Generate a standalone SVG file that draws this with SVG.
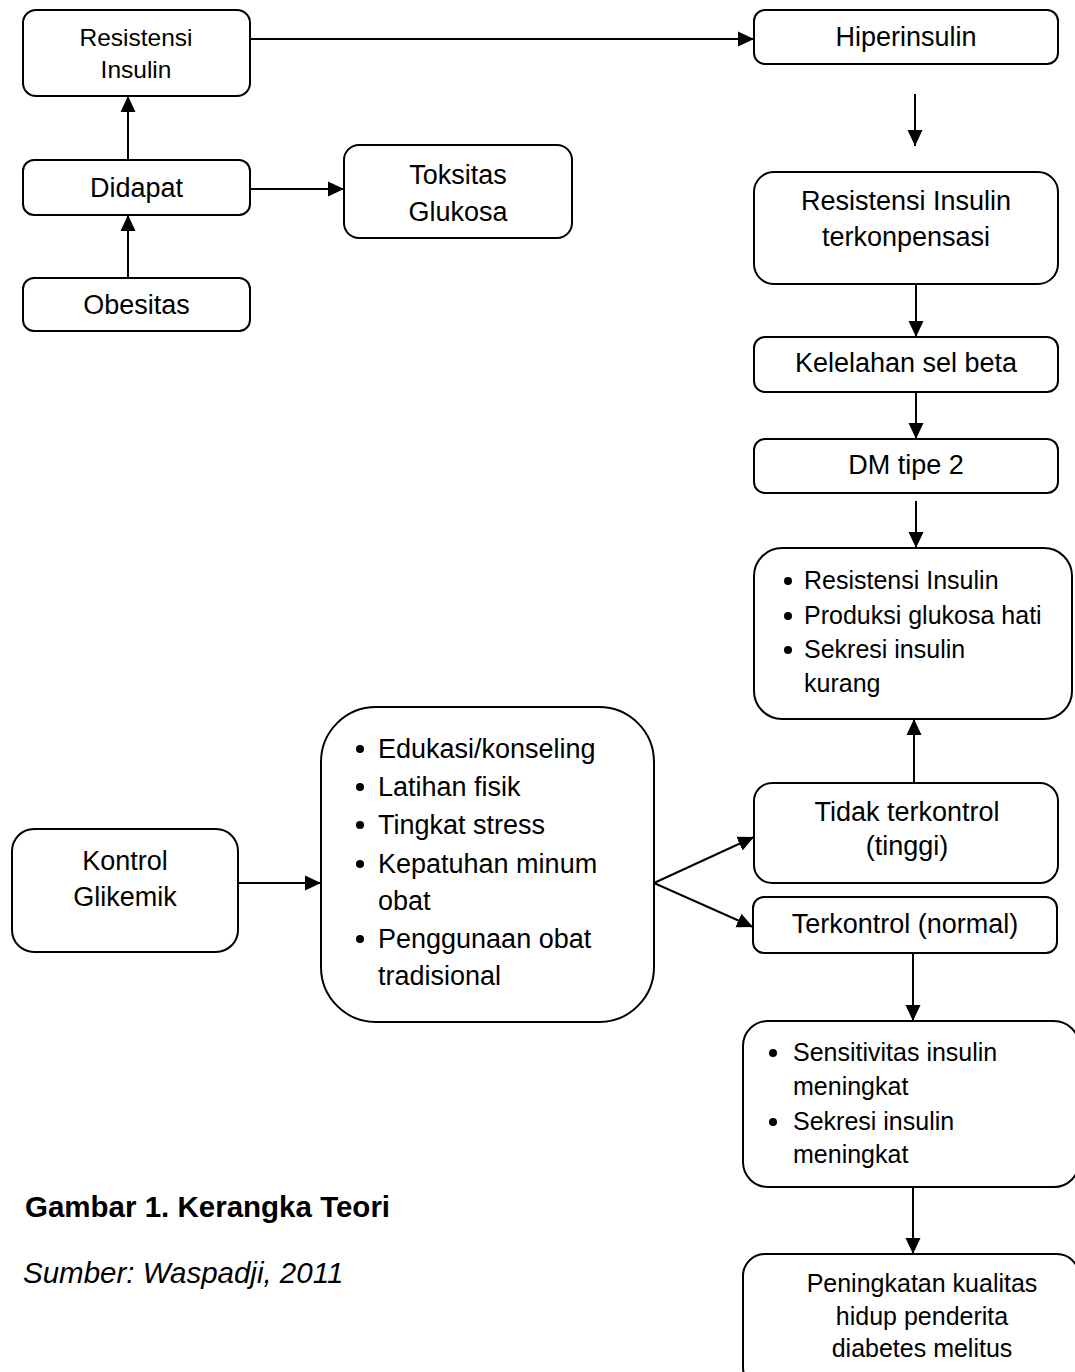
<svg xmlns="http://www.w3.org/2000/svg" width="1075" height="1372" viewBox="0 0 1075 1372">
<defs>
<style>
.box{fill:#fff;stroke:#000;stroke-width:2}
.t{font-family:"Liberation Sans",Arial,sans-serif;font-size:27px;fill:#000}
.c{text-anchor:middle}
.s{font-size:25px}
.ln{fill:none;stroke:#000;stroke-width:2}
.dot{fill:#000}
</style>
<marker id="ah" markerUnits="userSpaceOnUse" markerWidth="16" markerHeight="16" refX="16" refY="8" orient="auto" viewBox="0 0 16 16">
<path d="M0,0.5 L16,8 L0,15.5 z" fill="#000"/>
</marker>
</defs>
<rect width="1075" height="1372" fill="#fff"/>

<g id="connectors">
<line class="ln" x1="250" y1="39" x2="754" y2="39" marker-end="url(#ah)"/>
<line class="ln" x1="128" y1="160" x2="128" y2="96" marker-end="url(#ah)"/>
<line class="ln" x1="128" y1="278" x2="128" y2="215" marker-end="url(#ah)"/>
<line class="ln" x1="250" y1="189" x2="344" y2="189" marker-end="url(#ah)"/>
<line class="ln" x1="915" y1="94" x2="915" y2="146" marker-end="url(#ah)"/>
<line class="ln" x1="916" y1="284" x2="916" y2="337" marker-end="url(#ah)"/>
<line class="ln" x1="916" y1="392" x2="916" y2="439" marker-end="url(#ah)"/>
<line class="ln" x1="916" y1="501" x2="916" y2="548" marker-end="url(#ah)"/>
<line class="ln" x1="914" y1="783" x2="914" y2="719" marker-end="url(#ah)"/>
<line class="ln" x1="238" y1="883" x2="321" y2="883" marker-end="url(#ah)"/>
<line class="ln" x1="654" y1="883" x2="754" y2="837" marker-end="url(#ah)"/>
<line class="ln" x1="654" y1="883" x2="753" y2="927" marker-end="url(#ah)"/>
<line class="ln" x1="913" y1="953" x2="913" y2="1021" marker-end="url(#ah)"/>
<line class="ln" x1="913" y1="1187" x2="913" y2="1254" marker-end="url(#ah)"/>
</g>

<g id="resistensi-insulin">
<rect class="box" x="23" y="10" width="227" height="86" rx="13"/>
<text class="t c" x="136" y="46" style="font-size:24.5px">Resistensi</text>
<text class="t c" x="136" y="78" style="font-size:24.5px">Insulin</text>
</g>

<g id="didapat">
<rect class="box" x="23" y="160" width="227" height="55" rx="11"/>
<text class="t c" x="136.5" y="197">Didapat</text>
</g>

<g id="obesitas">
<rect class="box" x="23" y="278" width="227" height="53" rx="11"/>
<text class="t c" x="136.5" y="314">Obesitas</text>
</g>

<g id="toksitas">
<rect class="box" x="344" y="145" width="228" height="93" rx="15"/>
<text class="t c" x="458" y="184">Toksitas</text>
<text class="t c" x="458" y="221">Glukosa</text>
</g>

<g id="hiperinsulin">
<rect class="box" x="754" y="10" width="304" height="54" rx="11"/>
<text class="t c" x="906" y="46">Hiperinsulin</text>
</g>

<g id="terkonpensasi">
<rect class="box" x="754" y="172" width="304" height="112" rx="20"/>
<text class="t c" x="906" y="210">Resistensi Insulin</text>
<text class="t c" x="906" y="246">terkonpensasi</text>
</g>

<g id="kelelahan">
<rect class="box" x="754" y="337" width="304" height="55" rx="11"/>
<text class="t c" x="906" y="372">Kelelahan sel beta</text>
</g>

<g id="dm-tipe-2">
<rect class="box" x="754" y="439" width="304" height="54" rx="11"/>
<text class="t c" x="906" y="474">DM tipe 2</text>
</g>

<g id="faktor-dm">
<rect class="box" x="754" y="548" width="318" height="171" rx="28"/>
<circle class="dot" cx="788" cy="581" r="4"/>
<circle class="dot" cx="788" cy="616" r="4"/>
<circle class="dot" cx="788" cy="650" r="4"/>
<text class="t s" x="804" y="589">Resistensi Insulin</text>
<text class="t s" x="804" y="624">Produksi glukosa hati</text>
<text class="t s" x="804" y="658">Sekresi insulin</text>
<text class="t s" x="804" y="692">kurang</text>
</g>

<g id="tidak-terkontrol">
<rect class="box" x="754" y="783" width="304" height="100" rx="18"/>
<text class="t c" x="907" y="821">Tidak terkontrol</text>
<text class="t c" x="907" y="855">(tinggi)</text>
</g>

<g id="terkontrol">
<rect class="box" x="753" y="897" width="304" height="56" rx="11"/>
<text class="t c" x="905" y="933">Terkontrol (normal)</text>
</g>

<g id="kontrol-glikemik">
<rect class="box" x="12" y="829" width="226" height="123" rx="22"/>
<text class="t c" x="125" y="870">Kontrol</text>
<text class="t c" x="125" y="906">Glikemik</text>
</g>

<g id="faktor-kontrol">
<rect class="box" x="321" y="707" width="333" height="315" rx="55"/>
<circle class="dot" cx="360" cy="749" r="4"/>
<circle class="dot" cx="360" cy="787" r="4"/>
<circle class="dot" cx="360" cy="825" r="4"/>
<circle class="dot" cx="360" cy="864" r="4"/>
<circle class="dot" cx="360" cy="939" r="4"/>
<text class="t" x="378" y="758">Edukasi/konseling</text>
<text class="t" x="378" y="796">Latihan fisik</text>
<text class="t" x="378" y="834">Tingkat stress</text>
<text class="t" x="378" y="873">Kepatuhan minum</text>
<text class="t" x="378" y="910">obat</text>
<text class="t" x="378" y="948">Penggunaan obat</text>
<text class="t" x="378" y="985">tradisional</text>
</g>

<g id="sensitivitas">
<rect class="box" x="743" y="1021" width="336" height="166" rx="25"/>
<circle class="dot" cx="773" cy="1053" r="4"/>
<circle class="dot" cx="773" cy="1122" r="4"/>
<text class="t s" x="793" y="1061">Sensitivitas insulin</text>
<text class="t s" x="793" y="1095">meningkat</text>
<text class="t s" x="793" y="1130">Sekresi insulin</text>
<text class="t s" x="793" y="1163">meningkat</text>
</g>

<g id="peningkatan-kualitas">
<rect class="box" x="743" y="1254" width="336" height="135" rx="22"/>
<text class="t s c" x="922" y="1292">Peningkatan kualitas</text>
<text class="t s c" x="922" y="1325">hidup penderita</text>
<text class="t s c" x="922" y="1357">diabetes melitus</text>
</g>

<g id="caption">
<text class="t" x="25" y="1217" style="font-size:29.5px;font-weight:bold">Gambar 1. Kerangka Teori</text>
<text class="t" x="23" y="1283" style="font-size:29.5px;font-style:italic">Sumber: Waspadji, 2011</text>
</g>
</svg>
